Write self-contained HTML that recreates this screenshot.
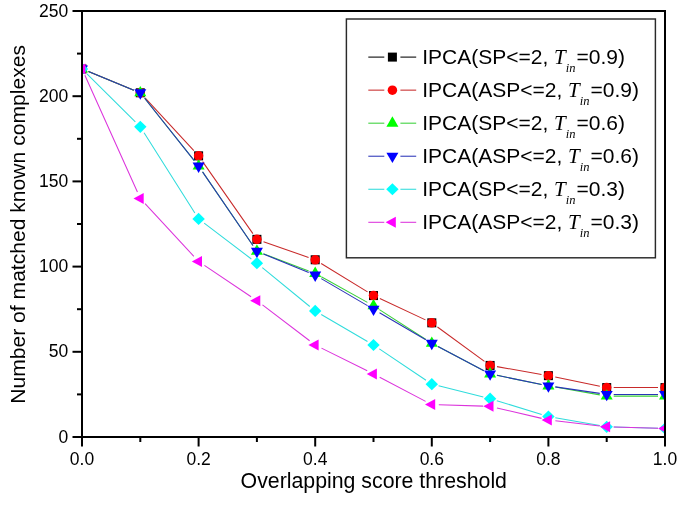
<!DOCTYPE html>
<html><head><meta charset="utf-8"><style>
html,body{margin:0;padding:0;background:#fff;}
svg{display:block;font-family:"Liberation Sans",sans-serif;-webkit-font-smoothing:antialiased;will-change:transform;}
text{fill:#000;}
</style></head><body>
<svg width="685" height="509" viewBox="0 0 685 509">
<defs><clipPath id="pc"><rect x="82.0" y="11.0" width="583.0" height="426.0"/></clipPath></defs>
<rect width="685" height="509" fill="#fff"/>
<g clip-path="url(#pc)">
<rect x="77.50" y="64.44" width="9.00" height="9.00" fill="#000000"/>
<rect x="135.80" y="88.29" width="9.00" height="9.00" fill="#000000"/>
<rect x="194.10" y="151.34" width="9.00" height="9.00" fill="#000000"/>
<rect x="252.40" y="234.84" width="9.00" height="9.00" fill="#000000"/>
<rect x="310.70" y="255.28" width="9.00" height="9.00" fill="#000000"/>
<rect x="369.00" y="291.07" width="9.00" height="9.00" fill="#000000"/>
<rect x="427.30" y="318.33" width="9.00" height="9.00" fill="#000000"/>
<rect x="485.60" y="360.93" width="9.00" height="9.00" fill="#000000"/>
<rect x="543.90" y="371.16" width="9.00" height="9.00" fill="#000000"/>
<rect x="602.20" y="383.08" width="9.00" height="9.00" fill="#000000"/>
<rect x="660.50" y="383.08" width="9.00" height="9.00" fill="#000000"/>
<path d="M88.48 71.59L133.82 90.14M145.05 97.93L193.85 150.70M202.61 161.58L252.89 233.60M263.51 241.65L308.59 257.47M321.17 263.45L367.53 291.91M379.84 298.53L425.46 319.87M437.45 326.96L484.45 361.30M496.99 366.64L541.51 374.45M555.26 377.06L599.84 386.18M613.70 387.58L658.00 387.58" fill="none" stroke="#c82a2a" stroke-width="1.05"/>
<circle cx="82.00" cy="68.94" r="4.75" fill="#ff0000"/>
<circle cx="140.30" cy="92.79" r="4.75" fill="#ff0000"/>
<circle cx="198.60" cy="155.84" r="4.75" fill="#ff0000"/>
<circle cx="256.90" cy="239.34" r="4.75" fill="#ff0000"/>
<circle cx="315.20" cy="259.78" r="4.75" fill="#ff0000"/>
<circle cx="373.50" cy="295.57" r="4.75" fill="#ff0000"/>
<circle cx="431.80" cy="322.83" r="4.75" fill="#ff0000"/>
<circle cx="490.10" cy="365.43" r="4.75" fill="#ff0000"/>
<circle cx="548.40" cy="375.66" r="4.75" fill="#ff0000"/>
<circle cx="606.70" cy="387.58" r="4.75" fill="#ff0000"/>
<circle cx="665.00" cy="387.58" r="4.75" fill="#ff0000"/>
<path d="M88.48 71.59L133.82 90.14M144.66 98.27L194.24 160.59M202.55 171.84L252.95 245.49M263.44 253.75L308.66 270.93M321.32 276.81L367.38 302.39M379.39 309.58L425.91 339.49M437.99 346.54L483.91 370.69M496.96 375.36L541.54 384.48M555.29 387.09L599.81 394.89M613.70 396.10L658.00 396.10" fill="none" stroke="#38d038" stroke-width="1.05"/>
<polygon points="82.00,62.04 88.00,72.44 76.00,72.44" fill="#00ff00"/>
<polygon points="140.30,85.89 146.30,96.29 134.30,96.29" fill="#00ff00"/>
<polygon points="198.60,159.16 204.60,169.56 192.60,169.56" fill="#00ff00"/>
<polygon points="256.90,244.36 262.90,254.76 250.90,254.76" fill="#00ff00"/>
<polygon points="315.20,266.52 321.20,276.92 309.20,276.92" fill="#00ff00"/>
<polygon points="373.50,298.89 379.50,309.29 367.50,309.29" fill="#00ff00"/>
<polygon points="431.80,336.38 437.80,346.78 425.80,346.78" fill="#00ff00"/>
<polygon points="490.10,367.05 496.10,377.45 484.10,377.45" fill="#00ff00"/>
<polygon points="548.40,378.98 554.40,389.38 542.40,389.38" fill="#00ff00"/>
<polygon points="606.70,389.20 612.70,399.60 600.70,399.60" fill="#00ff00"/>
<polygon points="665.00,389.20 671.00,399.60 659.00,399.60" fill="#00ff00"/>
<path d="M88.48 71.59L133.82 90.14M144.66 98.27L194.24 160.59M202.55 171.84L252.95 245.49M263.38 253.92L308.72 272.47M321.24 278.65L367.46 305.67M379.54 312.73L425.76 339.75M437.99 346.54L483.91 370.69M496.96 375.36L541.54 384.48M555.33 386.89L599.77 393.39M613.70 394.40L658.00 394.40" fill="none" stroke="#2a34b8" stroke-width="1.05"/>
<polygon points="82.00,75.84 88.00,65.44 76.00,65.44" fill="#0000ff"/>
<polygon points="140.30,99.69 146.30,89.29 134.30,89.29" fill="#0000ff"/>
<polygon points="198.60,172.96 204.60,162.56 192.60,162.56" fill="#0000ff"/>
<polygon points="256.90,258.16 262.90,247.76 250.90,247.76" fill="#0000ff"/>
<polygon points="315.20,282.02 321.20,271.62 309.20,271.62" fill="#0000ff"/>
<polygon points="373.50,316.10 379.50,305.70 367.50,305.70" fill="#0000ff"/>
<polygon points="431.80,350.18 437.80,339.78 425.80,339.78" fill="#0000ff"/>
<polygon points="490.10,380.85 496.10,370.45 484.10,370.45" fill="#0000ff"/>
<polygon points="548.40,392.78 554.40,382.38 542.40,382.38" fill="#0000ff"/>
<polygon points="606.70,401.30 612.70,390.90 600.70,390.90" fill="#0000ff"/>
<polygon points="665.00,401.30 671.00,390.90 659.00,390.90" fill="#0000ff"/>
<path d="M86.97 73.87L135.33 121.94M144.05 132.79L194.85 212.97M204.17 223.12L251.33 258.96M262.32 267.63L309.78 306.47M321.24 314.44L367.46 341.45M379.31 348.89L425.99 380.27M438.59 385.86L483.31 396.97M496.79 400.71L541.71 414.50M555.29 417.76L599.81 425.57M613.70 426.98L658.00 428.28" fill="none" stroke="#30dcdc" stroke-width="1.05"/>
<polygon points="82.00,62.84 88.20,68.94 82.00,75.04 75.80,68.94" fill="#00ffff"/>
<polygon points="140.30,120.77 146.50,126.87 140.30,132.97 134.10,126.87" fill="#00ffff"/>
<polygon points="198.60,212.79 204.80,218.89 198.60,224.99 192.40,218.89" fill="#00ffff"/>
<polygon points="256.90,257.09 263.10,263.19 256.90,269.29 250.70,263.19" fill="#00ffff"/>
<polygon points="315.20,304.80 321.40,310.90 315.20,317.00 309.00,310.90" fill="#00ffff"/>
<polygon points="373.50,338.88 379.70,344.98 373.50,351.08 367.30,344.98" fill="#00ffff"/>
<polygon points="431.80,378.08 438.00,384.18 431.80,390.28 425.60,384.18" fill="#00ffff"/>
<polygon points="490.10,392.56 496.30,398.66 490.10,404.76 483.90,398.66" fill="#00ffff"/>
<polygon points="548.40,410.45 554.60,416.55 548.40,422.65 542.20,416.55" fill="#00ffff"/>
<polygon points="606.70,420.68 612.90,426.78 606.70,432.88 600.50,426.78" fill="#00ffff"/>
<polygon points="665.00,422.38 671.20,428.48 665.00,434.58 658.80,428.48" fill="#00ffff"/>
<path d="M84.87 75.32L137.43 192.06M145.05 203.58L193.85 256.35M204.41 265.39L251.09 296.77M262.47 304.92L309.63 340.75M321.47 348.10L367.23 370.84M379.69 377.21L425.61 401.36M438.80 404.83L483.10 406.12M496.92 407.92L541.58 418.37M555.35 420.77L599.75 425.96M613.70 426.98L658.00 428.28" fill="none" stroke="#dc34dc" stroke-width="1.05"/>
<polygon points="75.20,68.94 85.40,63.44 85.40,74.44" fill="#ff00ff"/>
<polygon points="133.50,198.44 143.70,192.94 143.70,203.94" fill="#ff00ff"/>
<polygon points="191.80,261.49 202.00,255.99 202.00,266.99" fill="#ff00ff"/>
<polygon points="250.10,300.68 260.30,295.18 260.30,306.18" fill="#ff00ff"/>
<polygon points="308.40,344.98 318.60,339.48 318.60,350.48" fill="#ff00ff"/>
<polygon points="366.70,373.95 376.90,368.45 376.90,379.45" fill="#ff00ff"/>
<polygon points="425.00,404.62 435.20,399.12 435.20,410.12" fill="#ff00ff"/>
<polygon points="483.30,406.33 493.50,400.83 493.50,411.83" fill="#ff00ff"/>
<polygon points="541.60,419.96 551.80,414.46 551.80,425.46" fill="#ff00ff"/>
<polygon points="599.90,426.78 610.10,421.28 610.10,432.28" fill="#ff00ff"/>
<polygon points="658.20,428.48 668.40,422.98 668.40,433.98" fill="#ff00ff"/>
</g>
<rect x="82.0" y="11.0" width="583.0" height="426.0" fill="none" stroke="#000" stroke-width="2"/>
<line x1="72.5" y1="437.00" x2="82.0" y2="437.00" stroke="#000" stroke-width="2"/>
<text x="68.3" y="442.50" text-anchor="end" font-size="17.5">0</text>
<line x1="77.0" y1="394.40" x2="82.0" y2="394.40" stroke="#000" stroke-width="2"/>
<line x1="72.5" y1="351.80" x2="82.0" y2="351.80" stroke="#000" stroke-width="2"/>
<text x="68.3" y="357.30" text-anchor="end" font-size="17.5">50</text>
<line x1="77.0" y1="309.20" x2="82.0" y2="309.20" stroke="#000" stroke-width="2"/>
<line x1="72.5" y1="266.60" x2="82.0" y2="266.60" stroke="#000" stroke-width="2"/>
<text x="68.3" y="272.10" text-anchor="end" font-size="17.5">100</text>
<line x1="77.0" y1="224.00" x2="82.0" y2="224.00" stroke="#000" stroke-width="2"/>
<line x1="72.5" y1="181.40" x2="82.0" y2="181.40" stroke="#000" stroke-width="2"/>
<text x="68.3" y="186.90" text-anchor="end" font-size="17.5">150</text>
<line x1="77.0" y1="138.80" x2="82.0" y2="138.80" stroke="#000" stroke-width="2"/>
<line x1="72.5" y1="96.20" x2="82.0" y2="96.20" stroke="#000" stroke-width="2"/>
<text x="68.3" y="101.70" text-anchor="end" font-size="17.5">200</text>
<line x1="77.0" y1="53.60" x2="82.0" y2="53.60" stroke="#000" stroke-width="2"/>
<line x1="72.5" y1="11.00" x2="82.0" y2="11.00" stroke="#000" stroke-width="2"/>
<text x="68.3" y="16.50" text-anchor="end" font-size="17.5">250</text>
<line x1="82.00" y1="437.0" x2="82.00" y2="446.5" stroke="#000" stroke-width="2"/>
<text x="82.00" y="465.0" text-anchor="middle" font-size="17.5">0.0</text>
<line x1="140.30" y1="437.0" x2="140.30" y2="442.0" stroke="#000" stroke-width="2"/>
<line x1="198.60" y1="437.0" x2="198.60" y2="446.5" stroke="#000" stroke-width="2"/>
<text x="198.60" y="465.0" text-anchor="middle" font-size="17.5">0.2</text>
<line x1="256.90" y1="437.0" x2="256.90" y2="442.0" stroke="#000" stroke-width="2"/>
<line x1="315.20" y1="437.0" x2="315.20" y2="446.5" stroke="#000" stroke-width="2"/>
<text x="315.20" y="465.0" text-anchor="middle" font-size="17.5">0.4</text>
<line x1="373.50" y1="437.0" x2="373.50" y2="442.0" stroke="#000" stroke-width="2"/>
<line x1="431.80" y1="437.0" x2="431.80" y2="446.5" stroke="#000" stroke-width="2"/>
<text x="431.80" y="465.0" text-anchor="middle" font-size="17.5">0.6</text>
<line x1="490.10" y1="437.0" x2="490.10" y2="442.0" stroke="#000" stroke-width="2"/>
<line x1="548.40" y1="437.0" x2="548.40" y2="446.5" stroke="#000" stroke-width="2"/>
<text x="548.40" y="465.0" text-anchor="middle" font-size="17.5">0.8</text>
<line x1="606.70" y1="437.0" x2="606.70" y2="442.0" stroke="#000" stroke-width="2"/>
<line x1="665.00" y1="437.0" x2="665.00" y2="446.5" stroke="#000" stroke-width="2"/>
<text x="665.00" y="465.0" text-anchor="middle" font-size="17.5">1.0</text>
<text x="373.8" y="488.0" text-anchor="middle" font-size="21.3">Overlapping score threshold</text>
<text transform="translate(25.3,224.4) rotate(-90)" text-anchor="middle" font-size="21.1">Number of matched known complexes</text>
<rect x="346.4" y="19.0" width="309.0" height="238.8" fill="#fff" stroke="#2a2a2a" stroke-width="1.45"/>
<line x1="368.3" y1="57.10" x2="384.3" y2="57.10" stroke="#000000" stroke-width="1.05"/>
<line x1="400.4" y1="57.10" x2="416.2" y2="57.10" stroke="#000000" stroke-width="1.05"/>
<rect x="387.90" y="52.60" width="9.00" height="9.00" fill="#000000"/>
<text x="422.2" y="63.60" font-size="21">IPCA(SP&lt;=2, <tspan font-family="Liberation Serif" font-style="italic">T</tspan><tspan font-family="Liberation Serif" font-style="italic" font-size="12.5" dy="8.6">in</tspan><tspan dy="-8.6" dx="1">=0.9)</tspan></text>
<line x1="368.3" y1="90.14" x2="384.3" y2="90.14" stroke="#c82a2a" stroke-width="1.05"/>
<line x1="400.4" y1="90.14" x2="416.2" y2="90.14" stroke="#c82a2a" stroke-width="1.05"/>
<circle cx="392.40" cy="90.14" r="4.75" fill="#ff0000"/>
<text x="422.2" y="96.64" font-size="21">IPCA(ASP&lt;=2, <tspan font-family="Liberation Serif" font-style="italic">T</tspan><tspan font-family="Liberation Serif" font-style="italic" font-size="12.5" dy="8.6">in</tspan><tspan dy="-8.6" dx="1">=0.9)</tspan></text>
<line x1="368.3" y1="123.18" x2="384.3" y2="123.18" stroke="#38d038" stroke-width="1.05"/>
<line x1="400.4" y1="123.18" x2="416.2" y2="123.18" stroke="#38d038" stroke-width="1.05"/>
<polygon points="392.40,116.28 398.40,126.68 386.40,126.68" fill="#00ff00"/>
<text x="422.2" y="129.68" font-size="21">IPCA(SP&lt;=2, <tspan font-family="Liberation Serif" font-style="italic">T</tspan><tspan font-family="Liberation Serif" font-style="italic" font-size="12.5" dy="8.6">in</tspan><tspan dy="-8.6" dx="1">=0.6)</tspan></text>
<line x1="368.3" y1="156.22" x2="384.3" y2="156.22" stroke="#2a34b8" stroke-width="1.05"/>
<line x1="400.4" y1="156.22" x2="416.2" y2="156.22" stroke="#2a34b8" stroke-width="1.05"/>
<polygon points="392.40,163.12 398.40,152.72 386.40,152.72" fill="#0000ff"/>
<text x="422.2" y="162.72" font-size="21">IPCA(ASP&lt;=2, <tspan font-family="Liberation Serif" font-style="italic">T</tspan><tspan font-family="Liberation Serif" font-style="italic" font-size="12.5" dy="8.6">in</tspan><tspan dy="-8.6" dx="1">=0.6)</tspan></text>
<line x1="368.3" y1="189.26" x2="384.3" y2="189.26" stroke="#30dcdc" stroke-width="1.05"/>
<line x1="400.4" y1="189.26" x2="416.2" y2="189.26" stroke="#30dcdc" stroke-width="1.05"/>
<polygon points="392.40,183.16 398.60,189.26 392.40,195.36 386.20,189.26" fill="#00ffff"/>
<text x="422.2" y="195.76" font-size="21">IPCA(SP&lt;=2, <tspan font-family="Liberation Serif" font-style="italic">T</tspan><tspan font-family="Liberation Serif" font-style="italic" font-size="12.5" dy="8.6">in</tspan><tspan dy="-8.6" dx="1">=0.3)</tspan></text>
<line x1="368.3" y1="222.30" x2="384.3" y2="222.30" stroke="#dc34dc" stroke-width="1.05"/>
<line x1="400.4" y1="222.30" x2="416.2" y2="222.30" stroke="#dc34dc" stroke-width="1.05"/>
<polygon points="385.60,222.30 395.80,216.80 395.80,227.80" fill="#ff00ff"/>
<text x="422.2" y="228.80" font-size="21">IPCA(ASP&lt;=2, <tspan font-family="Liberation Serif" font-style="italic">T</tspan><tspan font-family="Liberation Serif" font-style="italic" font-size="12.5" dy="8.6">in</tspan><tspan dy="-8.6" dx="1">=0.3)</tspan></text>
</svg>
</body></html>
